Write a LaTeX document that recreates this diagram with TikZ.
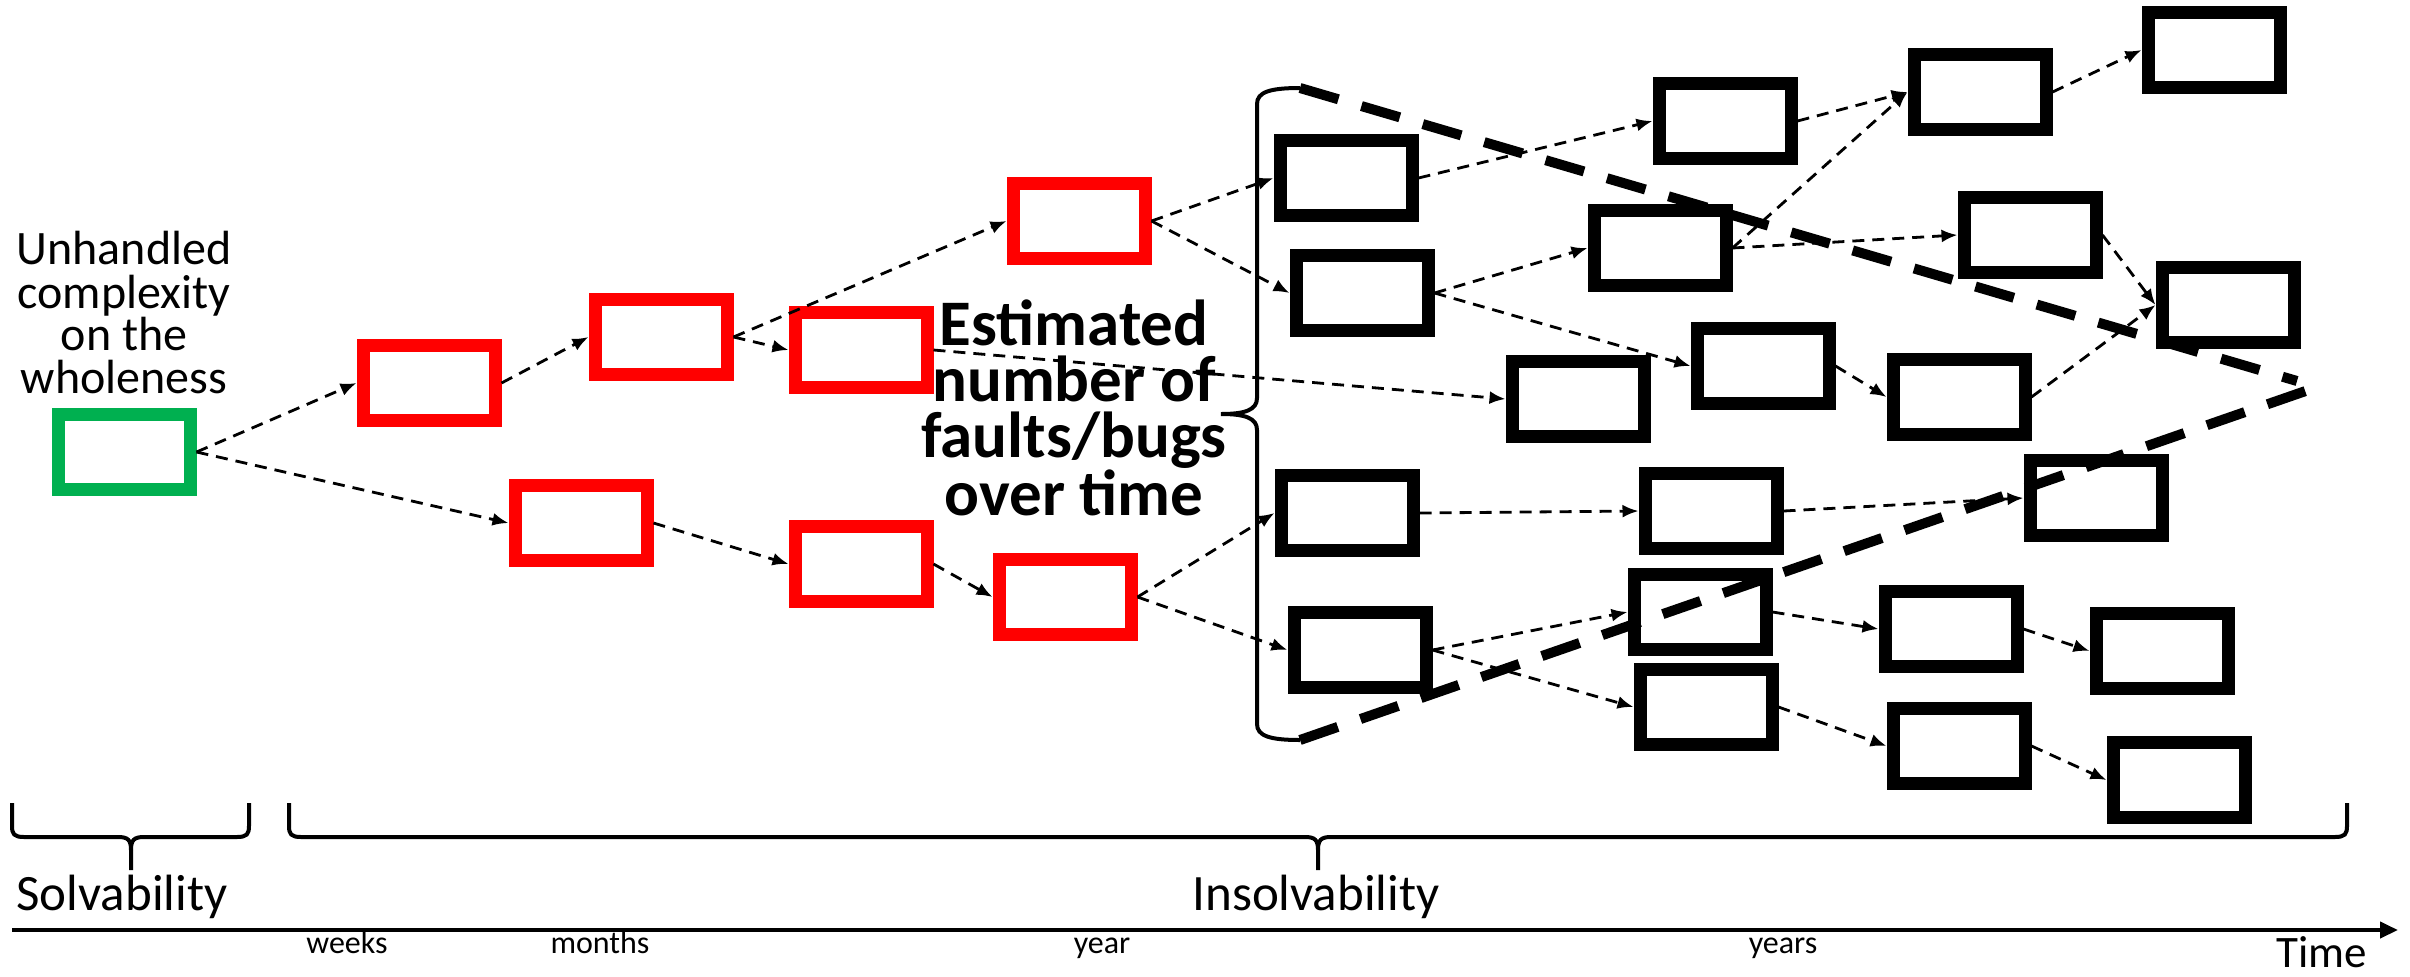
\documentclass[tikz,border=0pt]{standalone}
\usepackage{fontspec}
\setmainfont{Carlito}
\usetikzlibrary{arrows.meta}
\definecolor{boxgreen}{RGB}{0,176,80}
\definecolor{boxred}{RGB}{255,0,0}
\begin{document}
\begin{tikzpicture}[x=0.5pt,y=-0.5pt,
 box/.style={draw, line width=6.5pt, minimum width=66pt, minimum height=37.5pt, inner sep=0pt, fill=white},
 gbox/.style={box, draw=boxgreen},
 rbox/.style={box, draw=boxred},
 kbox/.style={box, draw=black},
 conn/.style={-{Latex[length=8pt,width=6.5pt]}, line width=1.4pt, dash pattern=on 6pt off 4pt},
 funnel/.style={line width=5pt, dash pattern=on 20pt off 12pt},
 brc/.style={line width=2pt},
 lbl/.style={font=\fontsize{25.5pt}{30pt}\selectfont, inner sep=0pt},
 small/.style={font=\fontsize{16pt}{19pt}\selectfont, inner sep=0pt},
]
\useasboundingbox (0,0) rectangle (2410,976);
% boxes
\node[gbox] (G) at (124,452) {};
\node[rbox] (r1) at (429,383) {};
\node[rbox] (r2) at (661,337) {};
\node[rbox] (r3) at (581,523) {};
\node[rbox] (r4) at (1079,221) {};
\node[rbox] (r5) at (861,350) {};
\node[rbox] (r6) at (861,564) {};
\node[rbox] (r7) at (1065,597) {};
\node[kbox] (B1) at (1346,178) {};
\node[kbox] (B2) at (1362,293) {};
\node[kbox] (B3) at (1725,121) {};
\node[kbox] (B4) at (1660,248) {};
\node[kbox] (B5) at (1980,92) {};
\node[kbox] (B6) at (2214,50) {};
\node[kbox] (B7) at (2030,235) {};
\node[kbox] (B8) at (2228,305) {};
\node[kbox] (B9) at (1578,399) {};
\node[kbox] (B10) at (1763,366) {};
\node[kbox] (B11) at (1959,397) {};
\node[kbox] (B12) at (1347,513) {};
\node[kbox] (B13) at (1711,511) {};
\node[kbox] (B14) at (2096,498) {};
\node[kbox] (B15) at (1360,650) {};
\node[kbox] (B16) at (1700,612) {};
\node[kbox] (B17) at (1706,707) {};
\node[kbox] (B18) at (1951,629) {};
\node[kbox] (B19) at (2162,651) {};
\node[kbox] (B20) at (1959,746) {};
\node[kbox] (B21) at (2179,780) {};
% texts
\node[font=\fontsize{24pt}{21.5pt}\selectfont, align=center, inner sep=0pt] (unh) at (124,313) {Unhandled\\complexity\\on the\\wholeness};
\node[font=\bfseries\fontsize{32.5pt}{28pt}\selectfont, align=center, inner sep=0pt] (est) at (1074,408) {Estimated\\number of\\faults/bugs\\over time};
% connectors
\draw[conn] (G.east) -- (r1.west);
\draw[conn] (G.east) -- (r3.west);
\draw[conn] (r1.east) -- (r2.west);
\draw[conn] (r2.east) -- (r4.west);
\draw[conn] (r2.east) -- (r5.west);
\draw[conn] (r3.east) -- (r6.west);
\draw[conn] (r6.east) -- (r7.west);
\draw[conn] (r4.east) -- (B1.west);
\draw[conn] (r4.east) -- (B2.west);
\draw[conn] (r5.east) -- (B9.west);
\draw[conn] (r7.east) -- (B12.west);
\draw[conn] (r7.east) -- (B15.west);
\draw[conn] (B1.east) -- (B3.west);
\draw[conn] (B2.east) -- (B4.west);
\draw[conn] (B2.east) -- (B10.west);
\draw[conn] (B3.east) -- (B5.west);
\draw[conn] (B4.east) -- (B5.west);
\draw[conn] (B4.east) -- (B7.west);
\draw[conn] (B5.east) -- (B6.west);
\draw[conn] (B7.east) -- (B8.west);
\draw[conn] (B10.east) -- (B11.west);
\draw[conn] (B11.east) -- (B8.west);
\draw[conn] (B12.east) -- (B13.west);
\draw[conn] (B13.east) -- (B14.west);
\draw[conn] (B15.east) -- (B16.west);
\draw[conn] (B15.east) -- (B17.west);
\draw[conn] (B16.east) -- (B18.west);
\draw[conn] (B18.east) -- (B19.west);
\draw[conn] (B17.east) -- (B20.west);
\draw[conn] (B20.east) -- (B21.west);
% vertical brace
\coordinate (btop) at (1300,88);
\coordinate (bbot) at (1300,740);
\coordinate (ftop) at (2297,381);
\coordinate (fbot) at (2320,386);
\draw[brc] (btop) .. controls (1270,88) and (1257,92) .. (1257,104) -- (1257,398)
  .. controls (1257,410) and (1245,414) .. (1221,414)
  .. controls (1245,414) and (1257,418) .. (1257,430) -- (1257,724)
  .. controls (1257,736) and (1270,740) .. (bbot);
\draw[funnel] (btop) -- (ftop);
\draw[funnel] (bbot) -- (fbot);
% bottom braces
\draw[brc] (12,803) -- (12,826) .. controls (12,834) and (14,837) .. (24,837) -- (118,837)
  .. controls (128,837) and (131,840) .. (131,850) -- (131,870);
\draw[brc] (131,850) .. controls (131,840) and (134,837) .. (144,837) -- (237,837)
  .. controls (247,837) and (249,834) .. (249,826) -- (249,803);
\draw[brc] (289,803) -- (289,826) .. controls (289,834) and (291,837) .. (301,837) -- (1305,837)
  .. controls (1315,837) and (1318,840) .. (1318,850) -- (1318,870);
\draw[brc] (1318,850) .. controls (1318,840) and (1321,837) .. (1331,837) -- (2335,837)
  .. controls (2345,837) and (2347,834) .. (2347,826) -- (2347,803);
% axis
\coordinate (ax0) at (12,930);
\coordinate (ax1) at (2398,930);
\draw[line width=2pt, -{Triangle[length=9pt,width=8pt]}] (ax0) -- (ax1);
\node[lbl, anchor=base] (solv) at (122,910) {Solvability};
\node[lbl, anchor=base] (insolv) at (1316,910) {Insolvability};
\node[small, anchor=base] (weeks) at (347,953) {weeks};
\node[small, anchor=base] (months) at (600,953) {months};
\node[small, anchor=base] (year) at (1102,953) {year};
\node[small, anchor=base] (years) at (1783,953) {years};
\node[font=\fontsize{22.5pt}{26pt}\selectfont, inner sep=0pt, anchor=base] (time) at (2322,967) {Time};
\end{tikzpicture}
\end{document}
